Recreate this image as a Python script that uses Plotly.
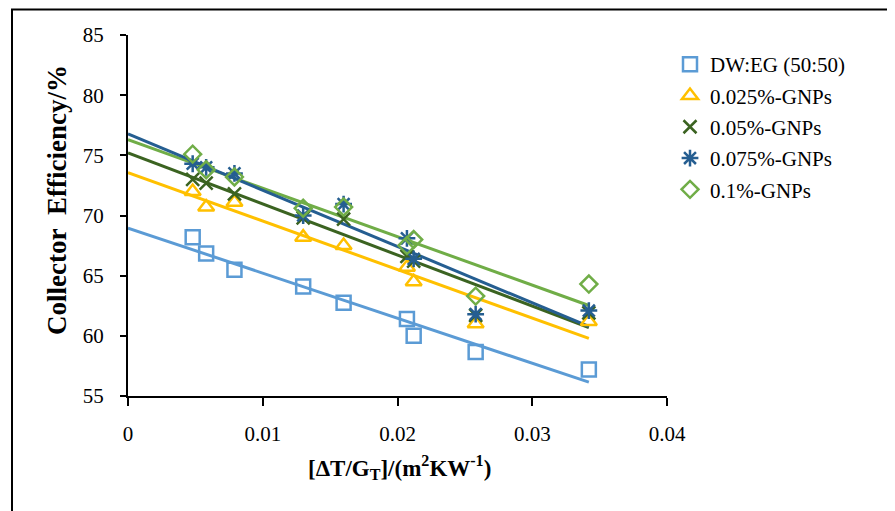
import numpy as np
import plotly.graph_objects as go

x_vals = [0.0048, 0.0058, 0.0079, 0.0130, 0.0160, 0.0207, 0.0212, 0.0258, 0.0342]
dw_eg = [68.2, 66.85, 65.5, 64.1, 62.75, 61.4, 60.0, 58.65, 57.2]
gnp_025 = [72.0, 70.7, 71.1, 68.2, 67.5, 65.7, 64.5, 61.0, 61.2]
gnp_05 = [73.0, 72.7, 71.8, 69.8, 69.7, 66.6, 66.2, 61.7, 61.9]
gnp_075 = [74.3, 74.0, 73.5, 70.0, 70.95, 68.1, 66.4, 61.8, 62.1]
gnp_1 = [75.1, 73.8, 73.2, 70.6, 70.7, 67.5, 68.0, 63.3, 64.3]

names = ["DW:EG (50:50)", "0.025%-GNPs", "0.05%-GNPs", "0.075%-GNPs", "0.1%-GNPs"]
series = [dw_eg, gnp_025, gnp_05, gnp_075, gnp_1]
colors = ["#5B9BD5", "#FFC000", "#3B6321", "#255E91", "#70AD47"]
symbols = ["square-open", "triangle-up-open", "x-thin-open", "asterisk-open", "diamond-open"]
sizes = [14, 14, 13, 14, 13]

FONT = "Liberation Serif"

fig = go.Figure()

# trend lines (least-squares, like Excel linear trendline)
xs = np.array(x_vals)
line_order = [0, 1, 2, 4, 3]
for i in line_order:
    slope, icpt = np.polyfit(xs, np.array(series[i]), 1)
    tx = [0.0, xs.max()]
    ty = [icpt + slope * t for t in tx]
    fig.add_trace(go.Scatter(x=tx, y=ty, mode="lines",
                             line=dict(color=colors[i], width=3),
                             showlegend=False, hoverinfo="skip"))

for i in range(5):
    fig.add_trace(go.Scatter(
        x=x_vals, y=series[i], mode="markers", name=names[i],
        legendgroup=f"g{i}",
        marker=dict(symbol=symbols[i], size=sizes[i], color=colors[i],
                    line=dict(color=colors[i], width=2.5)),
    ))

fig.update_layout(
    width=895, height=511,
    margin=dict(l=120, r=236, t=27, b=123, autoexpand=False),
    paper_bgcolor="white", plot_bgcolor="white",
    font=dict(family=FONT, size=21, color="black"),
    showlegend=True,
    legend=dict(x=(670 - 128) / 539, y=1 - (44 - 35) / 361, xanchor="left", yanchor="top",
                font=dict(family=FONT, size=21, color="black"),
                tracegroupgap=1, itemwidth=30, bgcolor="rgba(0,0,0,0)"),
    xaxis=dict(range=[0, 0.04], dtick=0.01, tick0=0, showgrid=False, zeroline=False,
               showline=True, linecolor="black", linewidth=2,
               ticks="outside", ticklen=8, tickwidth=2, tickcolor="black",
               tickfont=dict(family=FONT, size=21), ticklabelstandoff=10),
    yaxis=dict(range=[55, 85], dtick=5, tick0=55, showgrid=False, zeroline=False,
               showline=True, linecolor="black", linewidth=2,
               ticks="outside", ticklen=6, tickwidth=2, tickcolor="black",
               tickfont=dict(family=FONT, size=21), ticklabelstandoff=12),
    shapes=[dict(type="rect", xref="paper", yref="paper",
                 x0=(12 - 128) / 539, x1=(905 - 128) / 539,
                 y0=(396 - 520) / 361, y1=1 + (35 - 9.5) / 361,
                 line=dict(color="black", width=2), fillcolor="rgba(0,0,0,0)", layer="below")],
    annotations=[
        dict(text="<b>Collector\u00a0 Efficiency/%</b>", xref="paper", yref="paper",
             x=(57 - 128) / 539, y=1 - (200 - 35) / 361, textangle=-90,
             showarrow=False, xanchor="center", yanchor="middle",
             font=dict(family=FONT, size=27, color="black")),
        dict(text="<b>[ΔT/G<sub>T</sub>]/(m<sup>2</sup>KW<sup>-1</sup>)</b>", xref="paper", yref="paper",
             x=(399 - 128) / 539, y=-(467 - 396) / 361,
             showarrow=False, xanchor="center", yanchor="middle",
             font=dict(family=FONT, size=23, color="black")),
    ],
)

fig.write_html("out.html")
